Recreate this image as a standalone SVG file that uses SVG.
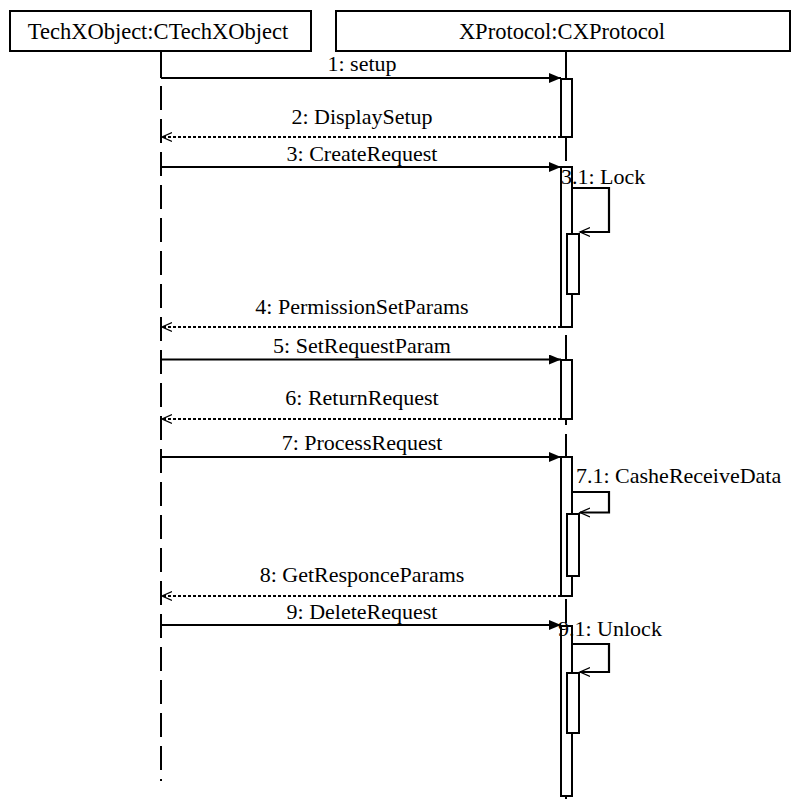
<svg xmlns="http://www.w3.org/2000/svg" width="793" height="799" viewBox="0 0 793 799">
<style>
  .box{fill:#fff;stroke:#000;stroke-width:2}
  text{font-family:'Liberation Serif','Times New Roman',serif;fill:#000}
  .name{font-size:22.5px;text-anchor:middle}
  .lbl{font-size:22px}
  .mid{text-anchor:middle}
  .life{stroke:#000;stroke-width:2;fill:none;stroke-dasharray:24 9}
  .act{fill:#fff;stroke:#000;stroke-width:2}
  .call{stroke:#000;stroke-width:2.2;fill:none;marker-end:url(#filled)}
  .ret{stroke:#000;stroke-width:2;fill:none;stroke-dasharray:3 2;marker-end:url(#open)}
  .self{stroke:#000;stroke-width:2.2;fill:none;marker-end:url(#open)}
</style>
<defs>
  <marker id="filled" markerWidth="14" markerHeight="10" refX="12" refY="5" orient="auto" markerUnits="userSpaceOnUse">
    <path d="M0,0 L12,5 L0,10 Z" fill="#000"/>
  </marker>
  <marker id="open" markerWidth="12" markerHeight="12" refX="10" refY="6" orient="auto" markerUnits="userSpaceOnUse">
    <path d="M0,1.5 L10,6 L0,10.5" fill="none" stroke="#000" stroke-width="1.3"/>
  </marker>
</defs>
<rect width="793" height="799" fill="#fff"/>

<g id="techxobject">
  <rect class="box" x="10" y="11" width="301" height="40"/>
  <text class="name" x="158" y="39" font-family="Liberation Serif, serif">TechXObject:CTechXObject</text>
  <line x1="161" y1="51" x2="161" y2="78" stroke="#000" stroke-width="2"/>
  <line class="life" x1="161" y1="86" x2="161" y2="781"/>
</g>

<g id="xprotocol">
  <rect class="box" x="336" y="11" width="454" height="40"/>
  <text class="name" x="562" y="39" font-family="Liberation Serif, serif">XProtocol:CXProtocol</text>
  <line x1="566" y1="51" x2="566" y2="79" stroke="#000" stroke-width="2"/>
  <line class="life" x1="566" y1="137" x2="566" y2="799"/>
  <rect class="act" x="561" y="79" width="11" height="58"/>
  <rect class="act" x="561" y="167" width="11" height="160"/>
  <rect class="act" x="567" y="234" width="12" height="60"/>
  <rect class="act" x="561" y="360" width="11" height="59"/>
  <rect class="act" x="561" y="457" width="11" height="139"/>
  <rect class="act" x="567" y="514" width="12" height="62"/>
  <rect class="act" x="561" y="626" width="11" height="170"/>
  <rect class="act" x="567" y="673" width="12" height="60"/>
</g>

<g id="connectors" font-family="Liberation Serif, serif">
  <line class="call" x1="161" y1="78" x2="561" y2="78"/>
  <text class="lbl mid" x="362" y="71">1: setup</text>
  <line class="ret" x1="561" y1="137" x2="162" y2="137"/>
  <text class="lbl mid" x="362" y="124">2: DisplaySetup</text>
  <line class="call" x1="161" y1="167" x2="561" y2="167"/>
  <text class="lbl mid" x="362" y="161">3: CreateRequest</text>
  <path class="self" d="M572,188 H609 V232 H580"/>
  <text class="lbl" x="561" y="184">3.1: Lock</text>
  <line class="ret" x1="561" y1="327" x2="162" y2="327"/>
  <text class="lbl mid" x="362" y="314">4: PermissionSetParams</text>
  <line class="call" x1="161" y1="359.5" x2="561" y2="359.5"/>
  <text class="lbl mid" x="362" y="353">5: SetRequestParam</text>
  <line class="ret" x1="561" y1="419" x2="162" y2="419"/>
  <text class="lbl mid" x="362" y="405">6: ReturnRequest</text>
  <line class="call" x1="161" y1="457" x2="561" y2="457"/>
  <text class="lbl mid" x="362" y="450">7: ProcessRequest</text>
  <path class="self" d="M572,492 H609 V512.5 H580"/>
  <text class="lbl" x="576" y="483">7.1: CasheReceiveData</text>
  <line class="ret" x1="561" y1="596" x2="162" y2="596"/>
  <text class="lbl mid" x="362" y="582">8: GetResponceParams</text>
  <line class="call" x1="161" y1="625" x2="561" y2="625"/>
  <text class="lbl mid" x="362" y="619">9: DeleteRequest</text>
  <path class="self" d="M572,644 H609 V672 H580"/>
  <text class="lbl" x="558" y="636">9.1: Unlock</text>
</g>
</svg>
